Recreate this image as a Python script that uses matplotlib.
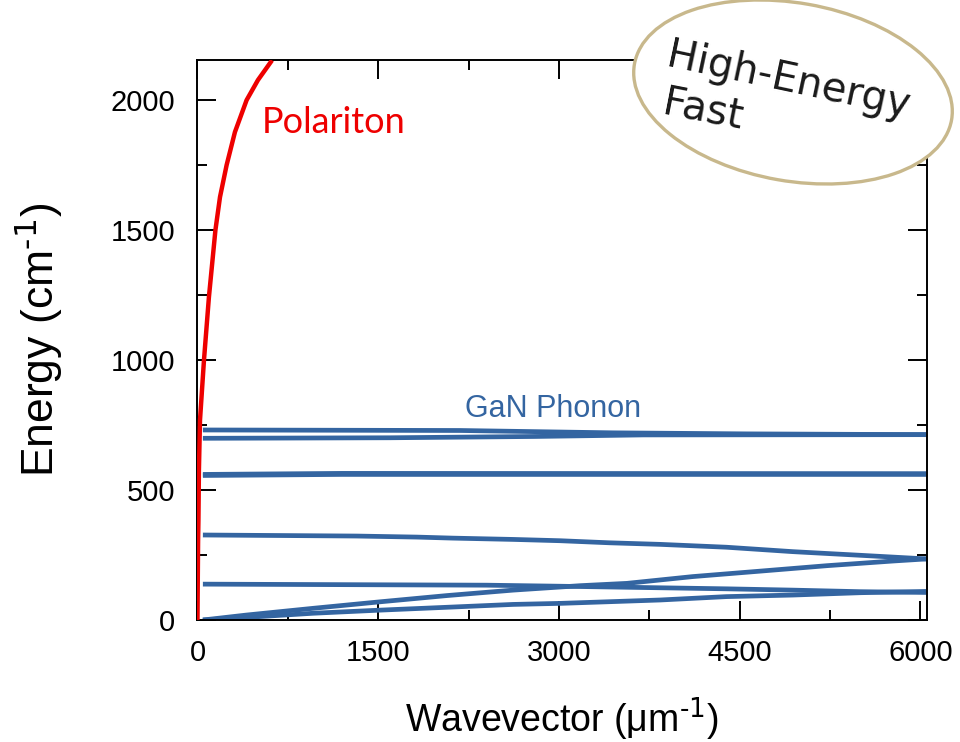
import matplotlib
matplotlib.use('Agg')
import matplotlib.pyplot as plt
from matplotlib.patches import Ellipse
from matplotlib.ticker import MultipleLocator

# polariton branch
polariton_k = [0, 5, 8, 12, 21, 54, 95, 149, 187, 242, 311, 408, 502, 608]
polariton_E = [0, 300, 385, 577, 769, 1000, 1242, 1500, 1627, 1750, 1877, 2000, 2077, 2146]

# GaN phonon branches
lo_upper_k = [45, 2180, 3450, 4560, 6050]
lo_upper_E = [731, 729, 720, 716, 713]
lo_lower_k = [45, 1600, 2800, 3700, 6050]
lo_lower_E = [699, 701, 706, 712, 713]
to_a_k = [45, 1200, 6050]
to_a_E = [556, 560, 560]
to_b_k = [45, 1200, 6050]
to_b_E = [560, 564, 563]
opt3_k = [45, 1320, 1820, 2120, 2620, 3010, 3420, 3840, 4390, 4940, 5500, 6050]
opt3_E = [327, 323, 319, 315, 310, 305, 297, 291, 280, 263, 249, 235]
opt4_k = [45, 2400, 3010, 3840, 4390, 4940, 5500, 6050]
opt4_E = [138, 134, 130, 124, 120, 115, 109, 106]
ac_up_k = [45, 405, 960, 1515, 2070, 2620, 3175, 3565, 4110, 4670, 5225, 5775, 6050]
ac_up_E = [0, 19, 45, 70, 94, 115, 132, 141, 167, 188, 209, 227, 235]
ac_lo_k = [45, 405, 960, 1515, 2070, 2620, 3010, 3840, 4390, 4940, 5500, 6050]
ac_lo_E = [0, 10, 26, 38, 49, 60, 64, 77, 90, 96, 105, 110]

branches = [(lo_upper_k, lo_upper_E), (lo_lower_k, lo_lower_E),
            (to_a_k, to_a_E), (to_b_k, to_b_E),
            (opt3_k, opt3_E), (opt4_k, opt4_E),
            (ac_up_k, ac_up_E), (ac_lo_k, ac_lo_E)]

xticks = [0, 1500, 3000, 4500, 6000]
yticks = [0, 500, 1000, 1500, 2000]

blue = '#3465a1'
red = '#ee0000'

plt.rcParams['font.family'] = ['Liberation Sans', 'DejaVu Sans']
plt.rcParams['mathtext.default'] = 'regular'

fig = plt.figure(figsize=(9.6, 7.42), dpi=100)
ax = fig.add_axes([0.2057, 0.1644, 0.7599, 0.7547])

for k, E in branches:
    ax.plot(k, E, color=blue, lw=3.4, solid_capstyle='butt')
ax.plot(polariton_k, polariton_E, color=red, lw=3.2, zorder=5)

ax.set_xlim(0, 6055)
ax.set_ylim(0, 2154)
ax.set_xticks(xticks)
ax.set_yticks(yticks)
ax.xaxis.set_minor_locator(MultipleLocator(750))
ax.yaxis.set_minor_locator(MultipleLocator(250))
ax.tick_params(which='both', direction='in', top=True, right=True, width=1.4, labelsize=21)
ax.tick_params(which='major', length=14)
ax.tick_params(which='minor', length=7)
ax.tick_params(axis='x', which='major', pad=14)
ax.tick_params(axis='y', which='major', pad=16)
for s in ax.spines.values():
    s.set_linewidth(1.4)

ax.set_xlabel(r'Wavevector (μm$^{\text{-1}}$)', fontsize=27, labelpad=20)
ax.set_ylabel(r'Energy (cm$^{\text{-1}}$)', fontsize=32, labelpad=33)

ax.text(535, 1873, 'Polariton', color=red, fontsize=26, family=['Lato', 'DejaVu Sans'],
        ha='left', va='baseline')
ax.text(2220, 781, 'GaN Phonon', color=blue, fontsize=22, ha='left', va='baseline')

# badge in the top right corner, drawn in pixel coordinates
ov = fig.add_axes([0, 0, 1, 1], zorder=10)
ov.set_xlim(0, 960)
ov.set_ylim(0, 742)
ov.axis('off')
ov.add_patch(Ellipse((793, 742 - 92), 322, 178, angle=-10,
                     facecolor='#ffffff', edgecolor='#c8b88c', lw=2.4))
ov.text(665, 742 - 66, 'High-Energy', fontsize=29, color='#1a1a1a',
        family='DejaVu Sans', rotation=-12, rotation_mode='anchor',
        ha='left', va='baseline')
ov.text(661, 742 - 114, 'Fast', fontsize=29, color='#1a1a1a',
        family='DejaVu Sans', rotation=-11, rotation_mode='anchor',
        ha='left', va='baseline')

plt.savefig('out.png', dpi=100)
